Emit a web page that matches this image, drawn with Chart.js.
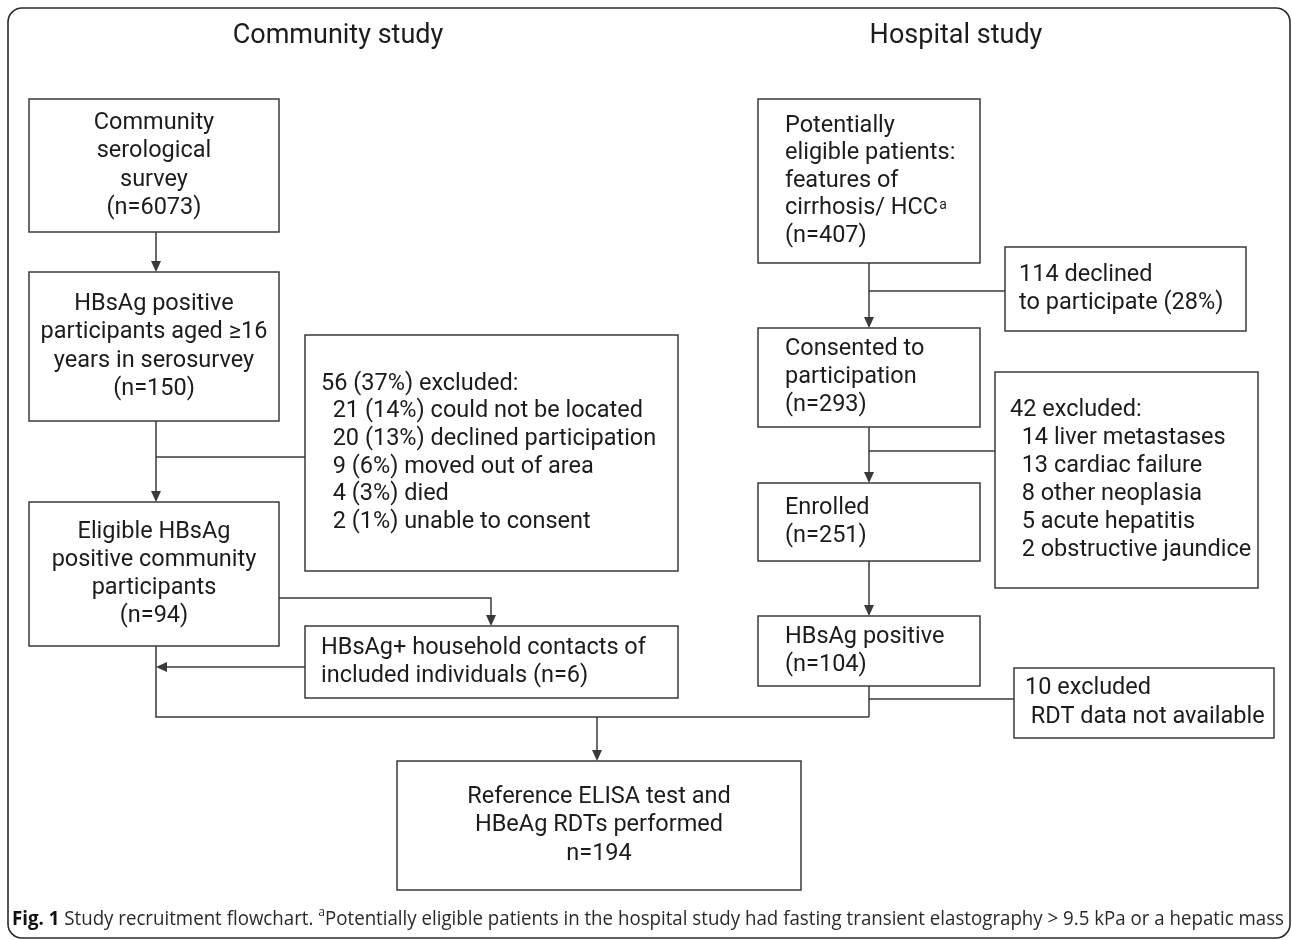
<!DOCTYPE html>
<html>
<head>
<meta charset="utf-8">
<title>Study recruitment flowchart</title>
<script src="https://cdn.jsdelivr.net/npm/chart.js@4.4.1/dist/chart.umd.min.js"></script>
<style>
  html, body { margin: 0; padding: 0; background: #fff; }
  #wrap { width: 1292px; height: 940px; }
</style>
</head>
<body>
<div id="wrap"><canvas id="flow" width="1292" height="940"></canvas></div>
<script>
// ---- data ----
const columnTitles = ['Community study', 'Hospital study'];

const communitySteps = ['Community\nserological\nsurvey', 'HBsAg positive\nparticipants aged ≥16\nyears in serosurvey', 'Eligible HBsAg\npositive community\nparticipants'];
const communityN = [6073, 150, 94];
const communityExcluded = [56, 37];            // n, %
const communityReasons = ['could not be located', 'declined participation', 'moved out of area', 'died', 'unable to consent'];
const communityReasonN = [21, 20, 9, 4, 2];
const communityReasonPct = [14, 13, 6, 3, 1];
const householdN = 6;

const hospitalSteps = ['Potentially\neligible patients:\nfeatures of\ncirrhosis/ HCC^a', 'Consented to\nparticipation', 'Enrolled', 'HBsAg positive'];
const hospitalN = [407, 293, 251, 104];
const hospitalDeclined = [114, 28];            // n, %
const hospitalReasons = ['liver metastases', 'cardiac failure', 'other neoplasia', 'acute hepatitis', 'obstructive jaundice'];
const hospitalReasonN = [14, 13, 8, 5, 2];
const rdtExcluded = 10;
const finalN = 194;

const captionLead = 'Fig. 1';
const captionText = ' Study recruitment flowchart. ';
const captionNote = 'Potentially eligible patients in the hospital study had fasting transient elastography > 9.5 kPa or a hepatic mass';

// ---- layout (page units, mapped through the chart scales) ----
const BOX = {
  c1:   [29, 99, 279, 232],
  c2:   [29, 272, 279, 421],
  cEx:  [305, 335, 678, 571],
  c3:   [29, 502, 279, 646],
  cHh:  [305, 626, 678, 698],
  h1:   [758, 99, 980, 263],
  hDec: [1005, 247, 1246, 331],
  h2:   [758, 328, 980, 427],
  hEx:  [995, 372, 1258, 588],
  h3:   [758, 483, 980, 561],
  h4:   [758, 616, 980, 686],
  hRdt: [1014, 668, 1274, 738],
  fin:  [397, 761, 801, 890],
};
const colC = 156, colH = 869, mergeY = 717, mergeX = 597;

const INK = '#1c1c1c';
const LINE = '#3a3a3a';
const FONT = 'Roboto, "Noto Sans", sans-serif';
const BODY = '23.5px ' + FONT;

// text content for each box
const withN = (s, n) => s.split('\n').concat('(n=' + n + ')');
const content = {
  c1: withN(communitySteps[0], communityN[0]),
  c2: withN(communitySteps[1], communityN[1]),
  c3: withN(communitySteps[2], communityN[2]),
  cEx: [communityExcluded[0] + ' (' + communityExcluded[1] + '%) excluded:']
    .concat(communityReasons.map((r, i) => '  ' + communityReasonN[i] + ' (' + communityReasonPct[i] + '%) ' + r)),
  cHh: ['HBsAg+ household contacts of', 'included individuals (n=' + householdN + ')'],
  h1: withN(hospitalSteps[0], hospitalN[0]),
  h2: withN(hospitalSteps[1], hospitalN[1]),
  h3: withN(hospitalSteps[2], hospitalN[2]),
  h4: withN(hospitalSteps[3], hospitalN[3]),
  hDec: [hospitalDeclined[0] + ' declined', 'to participate (' + hospitalDeclined[1] + '%)'],
  hEx: ['42 excluded:'].concat(hospitalReasons.map((r, i) => '  ' + hospitalReasonN[i] + ' ' + r)),
  hRdt: [rdtExcluded + ' excluded', ' RDT data not available'],
  fin: ['Reference ELISA test and', 'HBeAg RDTs performed', 'n=' + finalN],
};
const textStyle = {
  c1: { align: 'center', lh: 28.5 }, c2: { align: 'center', lh: 28.5 }, c3: { align: 'center', lh: 28 },
  fin: { align: 'center', lh: 28.5 },
  cEx: { align: 'left', x: 321, lh: 27.6 }, cHh: { align: 'left', x: 321, lh: 28 },
  h1: { align: 'left', x: 785, lh: 27.5 }, h2: { align: 'left', x: 785, lh: 28 },
  h3: { align: 'left', x: 785, lh: 28 }, h4: { align: 'left', x: 785, lh: 28 },
  hDec: { align: 'left', x: 1019, lh: 27.5 }, hEx: { align: 'left', x: 1010, lh: 28 },
  hRdt: { align: 'left', x: 1025, lh: 29 },
};

const flowPlugin = {
  id: 'flow',
  afterDatasetsDraw(chart) {
    const { ctx } = chart;
    const sx = chart.scales.x, sy = chart.scales.y;
    const px = (v) => sx.getPixelForValue(v);
    const py = (v) => sy.getPixelForValue(v);

    ctx.save();
    // outer frame
    ctx.strokeStyle = '#2a2a2a';
    ctx.lineWidth = 1.6;
    ctx.beginPath();
    ctx.roundRect(px(8), py(8), px(1290) - px(8), py(938) - py(8), 14);
    ctx.stroke();

    // column titles
    ctx.fillStyle = INK;
    ctx.font = '27px ' + FONT;
    ctx.textAlign = 'center';
    ctx.textBaseline = 'middle';
    ctx.fillText(columnTitles[0], px(338), py(36));
    ctx.fillText(columnTitles[1], px(956), py(36));

    // connectors
    ctx.strokeStyle = LINE;
    ctx.lineWidth = 1.5;
    const line = (pts) => {
      ctx.beginPath();
      pts.forEach((p, i) => (i ? ctx.lineTo(px(p[0]), py(p[1])) : ctx.moveTo(px(p[0]), py(p[1]))));
      ctx.stroke();
    };
    const head = (x, y, dir) => {
      const X = px(x), Y = py(y);
      ctx.fillStyle = LINE;
      ctx.beginPath();
      if (dir === 'down') { ctx.moveTo(X, Y); ctx.lineTo(X - 5, Y - 11); ctx.lineTo(X + 5, Y - 11); }
      else { ctx.moveTo(X, Y); ctx.lineTo(X + 11, Y - 5); ctx.lineTo(X + 11, Y + 5); }
      ctx.closePath();
      ctx.fill();
    };
    const arrowDown = (x, y0, y1) => { line([[x, y0], [x, y1 - 2]]); head(x, y1, 'down'); };

    arrowDown(colC, BOX.c1[3], BOX.c2[1]);
    arrowDown(colC, BOX.c2[3], BOX.c3[1]);
    line([[colC, 457], [BOX.cEx[0], 457]]);
    line([[BOX.c3[2], 598], [491, 598], [491, BOX.cHh[1] - 2]]);
    head(491, BOX.cHh[1], 'down');
    line([[BOX.cHh[0], 667], [colC + 2, 667]]);
    head(colC, 667, 'left');
    line([[colC, BOX.c3[3]], [colC, mergeY], [colH, mergeY]]);

    arrowDown(colH, BOX.h1[3], BOX.h2[1]);
    line([[colH, 291], [BOX.hDec[0], 291]]);
    arrowDown(colH, BOX.h2[3], BOX.h3[1]);
    line([[colH, 451], [BOX.hEx[0], 451]]);
    arrowDown(colH, BOX.h3[3], BOX.h4[1]);
    line([[colH, BOX.h4[3]], [colH, mergeY]]);
    line([[colH, 699], [BOX.hRdt[0], 699]]);
    arrowDown(mergeX, mergeY, BOX.fin[1]);

    // boxes and their text
    ctx.textBaseline = 'middle';
    Object.keys(BOX).forEach((k) => {
      const [x0, y0, x1, y1] = BOX[k];
      ctx.strokeStyle = LINE;
      ctx.lineWidth = 1.5;
      ctx.strokeRect(px(x0), py(y0), px(x1) - px(x0), py(y1) - py(y0));
      const lines = content[k];
      const st = textStyle[k];
      const cy = (y0 + y1) / 2;
      const top = cy - (lines.length - 1) * st.lh / 2;
      ctx.fillStyle = INK;
      lines.forEach((t, i) => {
        const y = py(top + i * st.lh);
        const parts = t.split('^');
        ctx.font = BODY;
        if (st.align === 'center') {
          ctx.textAlign = 'center';
          ctx.fillText(parts[0], px((x0 + x1) / 2), y);
        } else {
          ctx.textAlign = 'left';
          ctx.fillText(parts[0], px(st.x), y);
          if (parts[1]) {
            const w = ctx.measureText(parts[0]).width;
            ctx.font = '14px ' + FONT;
            ctx.fillText(parts[1], px(st.x) + w + 1, y - 3);
          }
        }
      });
    });

    // caption, condensed to the figure width
    const fLead = 'bold 20px "Open Sans", sans-serif';
    const fBody = '20px "Open Sans", sans-serif';
    const fSup = '13px "Open Sans", sans-serif';
    ctx.font = fLead; const wLead = ctx.measureText(captionLead).width;
    ctx.font = fBody; const wText = ctx.measureText(captionText).width;
    ctx.font = fSup; const wSup = ctx.measureText('a').width;
    ctx.font = fBody; const wNote = ctx.measureText(captionNote).width;
    const total = wLead + wText + wSup + wNote;
    const k = (px(1284) - px(12)) / total;
    ctx.translate(px(12), py(919));
    ctx.scale(k, 1);
    ctx.textAlign = 'left';
    ctx.fillStyle = '#111';
    let x = 0;
    ctx.font = fLead; ctx.fillText(captionLead, x, 0); x += wLead;
    ctx.font = fBody; ctx.fillStyle = '#2a2a2a'; ctx.fillText(captionText, x, 0); x += wText;
    ctx.font = fSup; ctx.fillText('a', x, -7); x += wSup;
    ctx.font = fBody; ctx.fillText(captionNote, x, 0);
    ctx.restore();
  },
};

// one invisible anchor point per box centre, so the canvas is laid out by the scales
const anchors = Object.values(BOX).map((b) => ({ x: (b[0] + b[2]) / 2, y: (b[1] + b[3]) / 2 }));

new Chart(document.getElementById('flow'), {
  type: 'scatter',
  data: { datasets: [{ data: anchors, pointRadius: 0, pointHoverRadius: 0 }] },
  options: {
    responsive: false,
    animation: false,
    events: [],
    layout: { padding: 0 },
    plugins: { legend: { display: false }, tooltip: { enabled: false } },
    scales: {
      x: { type: 'linear', min: 0, max: 1292, display: false },
      y: { type: 'linear', min: 0, max: 940, reverse: true, display: false },
    },
  },
  plugins: [flowPlugin],
});
</script>
</body>
</html>
